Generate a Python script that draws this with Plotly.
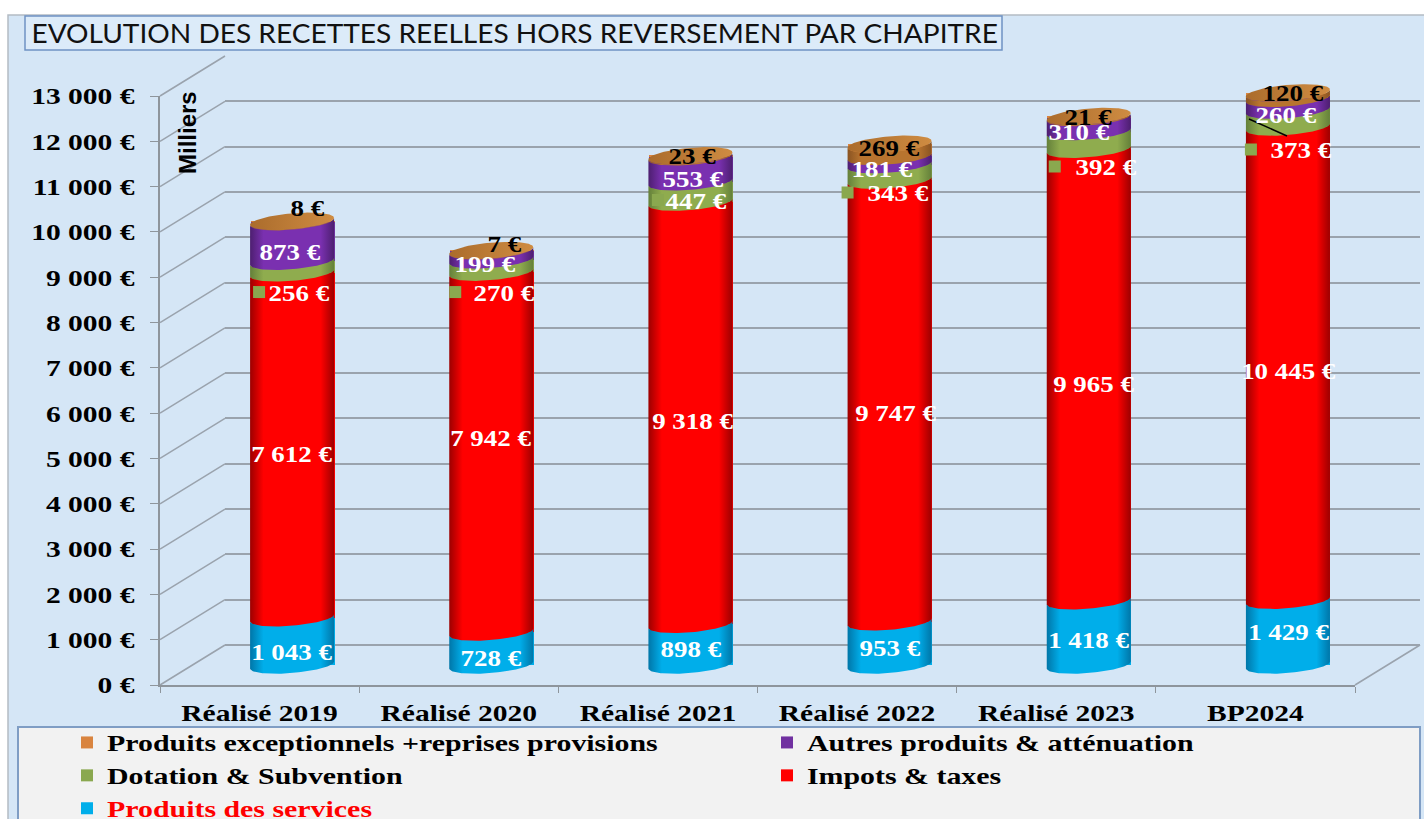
import numpy as np
import plotly.graph_objects as go

categories = ["Réalisé 2019", "Réalisé 2020", "Réalisé 2021", "Réalisé 2022", "Réalisé 2023", "BP2024"]
produits_services = [1043, 728, 898, 953, 1418, 1429]
impots_taxes = [7612, 7942, 9318, 9747, 9965, 10445]
dotation_subvention = [256, 270, 447, 343, 392, 373]
autres_produits = [873, 199, 553, 181, 310, 260]
produits_exceptionnels = [8, 7, 23, 269, 21, 120]
y_ticks = list(range(0, 14000, 1000))

W, H = 1424, 819
SERIF = "Liberation Serif"


def eur(v):
    return f"{v:,}".replace(",", " ") + " €"


series = [
    ("Produits des services", produits_services, "#00aeea", "#0076a8", "#00aeea", 5),
    ("Impots & taxes", impots_taxes, "#ff0000", "#9c0000", "#ff0000", 4),
    ("Dotation & Subvention", dotation_subvention, "#8aa84f", "#64803a", "#8fac4e", 3),
    ("Autres produits & atténuation", autres_produits, "#7030a0", "#4d1f70", "#7a30b0", 2),
    ("Produits exceptionnels +reprises provisions", produits_exceptionnels, "#d9843f", "#8a5422", "#b8742f", 1),
]

# pixel layout of the three depth planes
SCALE = 589 / 13000
PAD = 400
BACK = (225, 1420, 56, 645)
MID = (192.5, 1387.5, 76, 665 + PAD * SCALE)
FRONT = (160, 1355, 96, 685)


def xdom(p):
    return [p[0] / W, p[1] / W]


def ydom(p):
    return [1 - p[3] / H, 1 - p[2] / H]


fig = go.Figure()

# back wall (gridlines only)
fig.add_trace(go.Scatter(x=[0], y=[0], xaxis="x", yaxis="y", mode="none", showlegend=False, hoverinfo="skip"))

# stacked bars
x_idx = list(range(len(categories)))
BAR_W = 84 / 199.17
for name, vals, col, dark, bright, rank in series:
    label = f'<span style="color:#ff0000">{name}</span>' if rank == 5 else name
    fig.add_trace(go.Bar(x=x_idx, y=vals, xaxis="x2", yaxis="y2", name=label, legendrank=rank,
                         marker=dict(color=col, line=dict(width=0)), width=BAR_W,
                         hovertemplate=name + ": %{y}<extra></extra>"))

# cylinder skin over the bars
B = 8 / SCALE
T = 3.5 / SCALE
t = np.linspace(np.pi, 0, 61)
u = np.cos(t)
arc = np.sin(t)
hw = BAR_W / 2


def front_arc(level):
    return level + T * u - B * arc


def back_arc(level):
    return level + T * u + B * arc


cum = np.zeros(len(categories))
for name, vals, col, dark, bright, rank in series:
    for i, v in enumerate(vals):
        lo, hi = cum[i], cum[i] + v
        xs = np.r_[i + hw * u, i + hw * u[::-1]]
        ys = np.r_[front_arc(hi), front_arc(lo)[::-1]]
        fig.add_trace(go.Scatter(x=xs, y=ys, xaxis="x2", yaxis="y2", mode="lines", line=dict(width=0),
                                 fill="toself", showlegend=False, hoverinfo="skip",
                                 fillgradient=dict(type="horizontal", colorscale=[
                                     [0, dark], [0.16, bright], [0.84, bright], [1, dark]])))
    cum = cum + np.array(vals)

for i, top in enumerate(cum):
    xs = np.r_[i + hw * u, i + hw * u[::-1]]
    ys = np.r_[front_arc(top), back_arc(top)[::-1]]
    fig.add_trace(go.Scatter(x=xs, y=ys, xaxis="x2", yaxis="y2", mode="lines", line=dict(width=0),
                             fill="toself", showlegend=False, hoverinfo="skip",
                             fillgradient=dict(type="horizontal", colorscale=[[0, "#ab6c2c"], [1, "#cf8c42"]])))

# data labels: pixel offsets from the middle of each segment
offsets = {
    "Produits des services": [(0, 11), (0, 9.5), (1, 5), (0, 5), (0, 8), (1, 0)],
    "Impots & taxes": [(0, 9), (0, -14), (3, 8), (6, 12), (5, 9), (1, 8)],
    "Dotation & Subvention": [(7, 26), (13, 27), (6, 9), (8, 21), (17, 27), (13, 32)],
    "Autres produits & atténuation": [(-2, 11.5), (-6, 8.6), (3, 10), (-8, 9), (-10, 8.5), (-2, 11)],
    "Produits exceptionnels +reprises provisions": [(15, -13.5), (13, -6), (2, 0), (-1, -2), (0, 1), (5, -2)],
}
key_dx = [-33, -36, -32.5, -42, -34, -37]
key_x, key_y = [], []
cum = np.zeros(len(categories))
for name, vals, col, dark, bright, rank in series:
    for i, v in enumerate(vals):
        mid = cum[i] + v / 2
        dx, dy = offsets[name][i]
        fig.add_annotation(x=i, y=mid, xref="x2", yref="y2", text=eur(v), showarrow=False,
                           xshift=dx, yshift=-dy,
                           font=dict(family=SERIF, size=23, weight=700,
                                     color="#000000" if rank == 1 else "#ffffff"))
        if rank == 3:
            key_x.append(i + key_dx[i] / 199.17)
            key_y.append(mid - (dy - 1) / SCALE)
    cum = cum + np.array(vals)

fig.add_trace(go.Scatter(x=key_x, y=key_y, xaxis="x2", yaxis="y2", mode="markers", showlegend=False,
                         hoverinfo="skip", marker=dict(symbol="square", size=12, color="#8aa84f")))

# front axes carry the ticks and tick labels
fig.add_trace(go.Scatter(x=categories, y=[0] * len(categories), xaxis="x3", yaxis="y3", mode="none",
                         showlegend=False, hoverinfo="skip"))

GRID = "#9aa3ad"
AX = "#8e959c"
hidden = dict(visible=False, fixedrange=True)
fig.update_layout(
    width=W, height=H, margin=dict(l=0, r=0, t=0, b=0, autoexpand=False),
    paper_bgcolor="#ffffff", plot_bgcolor="rgba(0,0,0,0)", barmode="stack", bargap=0,
    showlegend=True, hovermode="closest",
    xaxis=dict(domain=xdom(BACK), anchor="y", range=[0, 1], visible=False, fixedrange=True),
    yaxis=dict(domain=ydom(BACK), anchor="x", range=[0, 13000], tickvals=y_ticks, showgrid=True,
               gridcolor=GRID, gridwidth=1.5, showticklabels=False, ticks="", showline=False,
               zeroline=True, zerolinecolor=GRID, zerolinewidth=1.5, fixedrange=True),
    xaxis2=dict(domain=xdom(MID), anchor="y2", range=[-0.5, 5.5], **hidden),
    yaxis2=dict(domain=ydom(MID), anchor="x2", range=[-PAD, 13000], **hidden),
    xaxis3=dict(domain=xdom(FRONT), anchor="y3", type="category", categoryorder="array",
                categoryarray=categories, range=[-0.5, 5.5], tickson="boundaries", ticks="outside",
                ticklen=6, tickcolor=AX, showline=True, linecolor=AX, linewidth=1.5, showgrid=False,
                zeroline=False, ticklabelstandoff=5,
                tickfont=dict(family=SERIF, size=24, weight=700, color="#000000"), fixedrange=True),
    yaxis3=dict(domain=ydom(FRONT), anchor="x3", range=[0, 13000], tickvals=y_ticks,
                ticktext=[eur(v) for v in y_ticks], ticks="outside", ticklen=8, tickcolor=AX,
                showline=True, linecolor=AX, linewidth=1.5, showgrid=False, zeroline=False,
                ticklabelstandoff=11,
                tickfont=dict(family=SERIF, size=24, weight=700, color="#000000"), fixedrange=True),
    legend=dict(orientation="h", x=67 / W, xanchor="left", y=1 - 721 / H, yanchor="top",
                traceorder="normal", bgcolor="rgba(0,0,0,0)", borderwidth=0, itemwidth=30,
                entrywidth=655, entrywidthmode="pixels", itemclick=False, itemdoubleclick=False,
                font=dict(family=SERIF, size=23, weight=700, color="#000000")),
)


def paper_rect(x0, y0, x1, y1, fill, line, lw=1.5):
    fig.add_shape(type="rect", xref="paper", yref="paper", x0=x0 / W, x1=x1 / W, y0=1 - y0 / H, y1=1 - y1 / H,
                  fillcolor=fill, line=dict(color=line, width=lw), layer="below")


def paper_line(x0, y0, x1, y1, color, lw=1.5, layer="below"):
    fig.add_shape(type="line", xref="paper", yref="paper", x0=x0 / W, x1=x1 / W, y0=1 - y0 / H, y1=1 - y1 / H,
                  line=dict(color=color, width=lw), layer=layer)


paper_rect(8, 15, 1430, 830, "#d5e6f6", "#b4bcc4")
paper_rect(25, 16, 1002, 50, "#dcebf9", "#6f93c4")
paper_rect(18, 727, 1420, 830, "#f2f2f2", "#7f9dc4", 2)

# perspective floor and wall connectors
for v in y_ticks:
    y_front = FRONT[3] - v * SCALE
    paper_line(FRONT[0], y_front, BACK[0], y_front - 40, GRID)
paper_line(FRONT[1], FRONT[3], BACK[1], BACK[3], GRID)
# leader line of the BP2024 label
paper_line(1249, 119, 1287, 136, "#000000", 1.5, "above")

fig.add_annotation(xref="paper", yref="paper", x=514 / W, y=1 - 33 / H, xanchor="center", yanchor="middle",
                   text="EVOLUTION DES RECETTES REELLES HORS REVERSEMENT PAR CHAPITRE", showarrow=False,
                   font=dict(family="Lato", size=26, color="#111111"))
fig.add_annotation(xref="paper", yref="paper", x=188 / W, y=1 - 132 / H, xanchor="center", yanchor="middle",
                   text="Milliers", textangle=-90, showarrow=False,
                   font=dict(family="Liberation Sans", size=24, weight=700, color="#000000"))

# The reference text is horizontally stretched: widen the real text around its own anchor.
stretch_js = """
document.body.style.margin='0';document.body.style.overflow='hidden';
function st(list,s){list.forEach(function(t){
  var x=parseFloat(t.getAttribute('x'))||0;var a=t.getAttribute('transform')||'';
  t.setAttribute('transform',a+' translate('+x+',0) scale('+s+',1) translate('+(-x)+',0)');});}
st(document.querySelectorAll('.x3tick text'),1.23);
st(document.querySelectorAll('.y3tick text'),1.23);
st(document.querySelectorAll('.legendtext'),1.3);
var ann=Array.from(document.querySelectorAll('.annotation-text'));
st(ann.filter(function(t){return /€$/.test(t.textContent);}),1.17);
st(ann.filter(function(t){return /^EVOLUTION/.test(t.textContent);}),1.08);
"""
fig.write_html("out.html", post_script=stretch_js, config={"displayModeBar": False})
